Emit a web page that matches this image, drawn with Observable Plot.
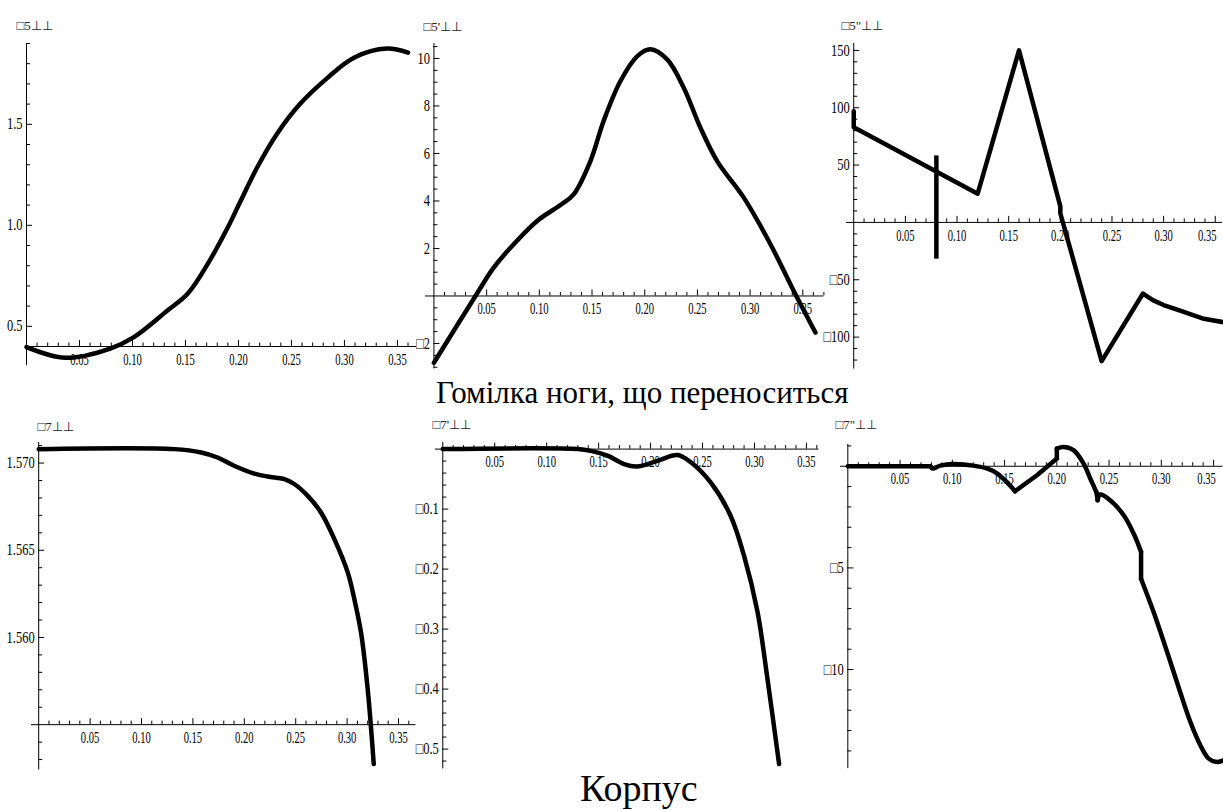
<!DOCTYPE html>
<html>
<head>
<meta charset="utf-8">
<script src="https://cdn.jsdelivr.net/npm/d3@7"></script>
<script src="https://cdn.jsdelivr.net/npm/@observablehq/plot@0.6"></script>
<style>
html, body { margin: 0; padding: 0; background: #fff; }
#root { position: relative; width: 1223px; height: 810px; overflow: hidden; font-family: "Liberation Serif", serif; }
.title { position: absolute; white-space: nowrap; font-family: "Liberation Serif", serif; color: #000; line-height: 1; }
</style>
</head>
<body>
<div id="root"></div>
<script>
// ---------- titles ----------
const TITLE_TOP = "Гомілка ноги, що переноситься";
const TITLE_BOTTOM = "Корпус";

// ---------- axis labels (missing glyphs rendered as boxes in the original) ----------
const LABELS = ["□5⊥⊥", "□5'⊥⊥", "□5\"⊥⊥", "□7⊥⊥", "□7'⊥⊥", "□7\"⊥⊥"];

// ---------- common x ticks ----------
const X_TICKS = [0.05, 0.10, 0.15, 0.20, 0.25, 0.30, 0.35];

// ---------- panel 1 ----------
const X1 = [0, 0.037, 0.079, 0.101, 0.133, 0.152, 0.171, 0.19, 0.202, 0.218, 0.236, 0.258, 0.284, 0.309, 0.34, 0.36];
const Y1 = [0.397, 0.344, 0.39, 0.445, 0.578, 0.661, 0.809, 0.99, 1.12, 1.29, 1.45, 1.60, 1.73, 1.83, 1.875, 1.855];
const Y1_TICKS = [0.5, 1.0, 1.5];

// ---------- panel 2 ----------
const X2 = [0, 0.0394, 0.0567, 0.0726, 0.0979, 0.12, 0.1326, 0.1485, 0.161, 0.177, 0.193, 0.2054, 0.2213, 0.237, 0.2528, 0.2687, 0.294, 0.3193, 0.3414, 0.362];
const Y2 = [-2.81, 0, 1.19, 2.03, 3.16, 3.83, 4.28, 5.68, 7.37, 9.05, 10.1, 10.39, 9.96, 8.77, 7.09, 5.68, 4.14, 2.18, 0.21, -1.54];
const Y2_TICKS = [-2, 2, 4, 6, 8, 10];

// ---------- panel 3 ----------
const X3 = [0, 0, 0.12, 0.16, 0.2, 0.2, 0.24, 0.28, 0.29, 0.30, 0.316, 0.339, 0.358];
const Y3 = [97, 83, 25, 150, 14, 8, -121, -62, -68, -72, -77, -84, -87];
const BAR3_X = [0.08];
const BAR3_LO = [-32];
const BAR3_HI = [58];
const Y3_TICKS = [-100, -50, 50, 100, 150];

// ---------- panel 4 ----------
const X4 = [0, 0.132, 0.158, 0.174, 0.190, 0.2097, 0.2228, 0.239, 0.2486, 0.2617, 0.2746, 0.2876, 0.3006, 0.307, 0.3135, 0.320, 0.3259];
const Y4 = [1.5708, 1.5708, 1.57061, 1.57032, 1.56985, 1.5694, 1.56923, 1.56908, 1.5688, 1.56812, 1.56717, 1.56564, 1.56373, 1.5622, 1.56029, 1.55704, 1.55274];
const Y4_TICKS = [1.560, 1.565, 1.570];

// ---------- panel 5 ----------
const X5 = [0, 0.13, 0.1424, 0.1585, 0.1745, 0.187, 0.2066, 0.2259, 0.2387, 0.258, 0.277, 0.29, 0.303, 0.3125, 0.3237];
const Y5 = [0, 0, -0.003, -0.011, -0.025, -0.029, -0.0195, -0.01, -0.022, -0.056, -0.111, -0.178, -0.272, -0.383, -0.525];
const Y5_TICKS = [-0.5, -0.4, -0.3, -0.2, -0.1];

// ---------- panel 6 ----------
const X6 = [0, 0.079, 0.081, 0.0885, 0.101, 0.120, 0.133, 0.143, 0.152, 0.160, 0.181, 0.200, 0.200, 0.2065, 0.216, 0.2256, 0.232, 0.238, 0.239, 0.2416, 0.251, 0.264, 0.2735, 0.2806, 0.2806, 0.2926, 0.3055, 0.318, 0.3278, 0.3373, 0.3453, 0.3533, 0.3596];
const Y6 = [0, 0, -0.11, 0.03, 0.11, 0.03, -0.11, -0.36, -0.77, -1.23, -0.44, 0.38, 0.87, 0.95, 0.79, 0.13, -0.6, -1.29, -1.67, -1.39, -1.67, -2.41, -3.31, -4.21, -5.53, -7.17, -9.13, -11.1, -12.58, -13.72, -14.38, -14.54, -14.46];
// pieces of the panel-6 curve between its breaks: [first index, last index, curve]
const PIECES6 = [[0, 1, "linear"], [1, 9, "catmull-rom"], [9, 11, "linear"], [11, 12, "linear"], [12, 17, "catmull-rom"], [17, 18, "linear"], [18, 23, "catmull-rom"], [23, 24, "linear"], [24, 32, "catmull-rom"]];
const Y6_TICKS = [-10, -5];

// ---------- helpers ----------
const FONT = "Liberation Serif";
const neg = (s) => s.replace("-", "□");
const fmt2 = (d) => neg(d.toFixed(2));
const fmt1 = (d) => neg(d.toFixed(1));
const fmt0 = (d) => neg(d.toFixed(0));
const fmt3 = (d) => neg(d.toFixed(3));

function minorTicks(domain, step, exclude) {
  const out = [];
  const k0 = Math.ceil(domain[0] / step - 1e-9), k1 = Math.floor(domain[1] / step + 1e-9);
  for (let k = k0; k <= k1; k++) {
    const v = +(k * step).toFixed(8);
    if (exclude.some((e) => Math.abs(e - v) < step / 10)) continue;
    out.push(v);
  }
  return out;
}

const root = document.getElementById("root");

function makePanel(p) {
  const mL = 45, mT = 30, mR = 14, mB = 22;
  const [fl, ft, fr, fb] = p.frame;
  const width = fr - fl + mL + mR, height = fb - ft + mT + mB;
  const data = p.xs.map((x, i) => ({x, y: p.ys[i]}));
  const xMajor = X_TICKS;
  const xMinor = minorTicks([0.001, p.xDomain[1]], 0.01, [0, ...xMajor]);
  const yMinor = minorTicks(p.yDomain, p.yMinorStep, [p.y0, ...p.yTicks]);
  const tick = {stroke: "#000", strokeWidth: 1};
  const txt = {fontFamily: FONT, fontSize: 16, fill: "#000"};
  const lineStyle = {x: "x", y: "y", stroke: "#000", strokeWidth: 4.5, strokeLinecap: "round", strokeLinejoin: "round"};
  const lines = p.pieces
    ? p.pieces.map(([a, b, c]) => Plot.line(data.slice(a, b + 1), {...lineStyle, curve: c}))
    : [Plot.line(data, {...lineStyle, curve: p.curve})];
  const shift = p.lastXShift || 0;
  const svg = Plot.plot({
    width, height,
    marginLeft: mL, marginTop: mT, marginRight: mR, marginBottom: mB,
    x: {domain: p.xDomain, axis: null},
    y: {domain: p.yDomain, axis: null},
    style: {background: "transparent", overflow: "visible", fontFamily: FONT},
    marks: [
      Plot.ruleY([p.y0], tick),
      Plot.ruleX([0], tick),
      Plot.ruleX(xMajor, {x: (d) => d, y1: () => p.y0, y2: () => p.y0, insetTop: -6, insetBottom: 0, ...tick}),
      Plot.ruleX(xMinor, {x: (d) => d, y1: () => p.y0, y2: () => p.y0, insetTop: -3.5, insetBottom: 0, ...tick}),
      Plot.ruleY(p.yTicks, {y: (d) => d, x1: () => 0, x2: () => 0, insetLeft: 0, insetRight: -6, ...tick}),
      Plot.ruleY(yMinor, {y: (d) => d, x1: () => 0, x2: () => 0, insetLeft: 0, insetRight: -4, ...tick}),
      Plot.text(xMajor.slice(0, -1), {x: (d) => d, y: () => p.y0, dy: 13, text: fmt2, ...txt}),
      Plot.text(xMajor.slice(-1), {x: (d) => d, y: () => p.y0, dy: 13, dx: shift, text: fmt2, ...txt}),
      Plot.text(p.yTicks, {x: () => 0, y: (d) => d, dx: -4, textAnchor: "end", text: p.yFmt, ...txt}),
      Plot.text([p.label], {frameAnchor: "top-left", dx: p.labelDx, dy: p.labelDy, textAnchor: "start", lineAnchor: "bottom", text: (d) => d, fontFamily: FONT, fontSize: 13, fill: "#222"}),
      ...(p.extra || []),
      ...lines
    ]
  });
  svg.style.position = "absolute";
  svg.style.left = (fl - mL) + "px";
  svg.style.top = (ft - mT) + "px";
  svg.style.maxWidth = "none";
  root.appendChild(svg);
  // Mathematica-style condensed tick numbers (x labels narrower than y labels)
  for (const t of svg.querySelectorAll("text")) {
    const s = t.textContent;
    if (!/^[□0-9.]+$/.test(s)) continue;
    const isX = /^0\.\d\d$/.test(s);
    const w = t.getComputedTextLength();
    if (w > 0) {
      t.setAttribute("textLength", (w * (isX ? 0.66 : 0.78)).toFixed(2));
      t.setAttribute("lengthAdjust", "spacingAndGlyphs");
    }
  }
}

// frame = [left, top, right, bottom] of the plotting area in page pixels
makePanel({xs: X1, ys: Y1, xDomain: [0, 0.368], yDomain: [0.306, 1.9], y0: 0.4,
  frame: [26, 43, 416, 365], yTicks: Y1_TICKS, yMinorStep: 0.1, yFmt: fmt1,
  label: LABELS[0], labelDx: -10, labelDy: -14, curve: "catmull-rom"});

makePanel({xs: X2, ys: Y2, xDomain: [-0.008, 0.370], yDomain: [-3.07, 10.63], y0: 0,
  frame: [425.1, 42.5, 823.5, 367.9], yTicks: Y2_TICKS, yMinorStep: 0.5, yFmt: fmt0,
  label: LABELS[1], labelDx: -2, labelDy: -12.5, curve: "catmull-rom"});

makePanel({xs: X3, ys: Y3, xDomain: [-0.007, 0.357], yDomain: [-127.8, 156], y0: 0,
  frame: [846.1, 42.8, 1222.1, 368.3], yTicks: Y3_TICKS, yMinorStep: 10, yFmt: fmt0,
  label: LABELS[2], labelDx: -5, labelDy: -14, curve: "linear", lastXShift: -8,
  extra: [Plot.ruleX(BAR3_X, {x: (d) => d, y1: (d, i) => BAR3_LO[i], y2: (d, i) => BAR3_HI[i], stroke: "#000", strokeWidth: 4.5})]});

makePanel({xs: X4, ys: Y4, xDomain: [-0.007, 0.367], yDomain: [1.5524, 1.57118], y0: 1.555,
  frame: [30.5, 441.7, 415, 769.2], yTicks: Y4_TICKS, yMinorStep: 0.001, yFmt: fmt3,
  label: LABELS[3], labelDx: 6, labelDy: -12, curve: "catmull-rom"});

makePanel({xs: X5, ys: Y5, xDomain: [-0.007, 0.362], yDomain: [-0.533, 0.011], y0: 0,
  frame: [434.7, 441.7, 818.1, 768.1], yTicks: Y5_TICKS, yMinorStep: 0.02, yFmt: fmt1,
  label: LABELS[4], labelDx: -3, labelDy: -13, curve: "catmull-rom"});

makePanel({xs: X6, ys: Y6, xDomain: [-0.007, 0.359], yDomain: [-14.87, 1.07], y0: 0,
  frame: [840.2, 444.2, 1222.7, 768.3], yTicks: Y6_TICKS, yMinorStep: 1, yFmt: fmt0,
  label: LABELS[5], labelDx: -5, labelDy: -15, pieces: PIECES6, lastXShift: -7});

// ---------- titles ----------
const t1 = document.createElement("div");
t1.className = "title";
t1.textContent = TITLE_TOP;
t1.style.fontSize = "31px";
t1.style.left = "436px";
t1.style.top = "377px";
root.appendChild(t1);

const t2 = document.createElement("div");
t2.className = "title";
t2.textContent = TITLE_BOTTOM;
t2.style.fontSize = "38px";
t2.style.left = "580px";
t2.style.top = "769px";
root.appendChild(t2);
</script>
</body>
</html>
